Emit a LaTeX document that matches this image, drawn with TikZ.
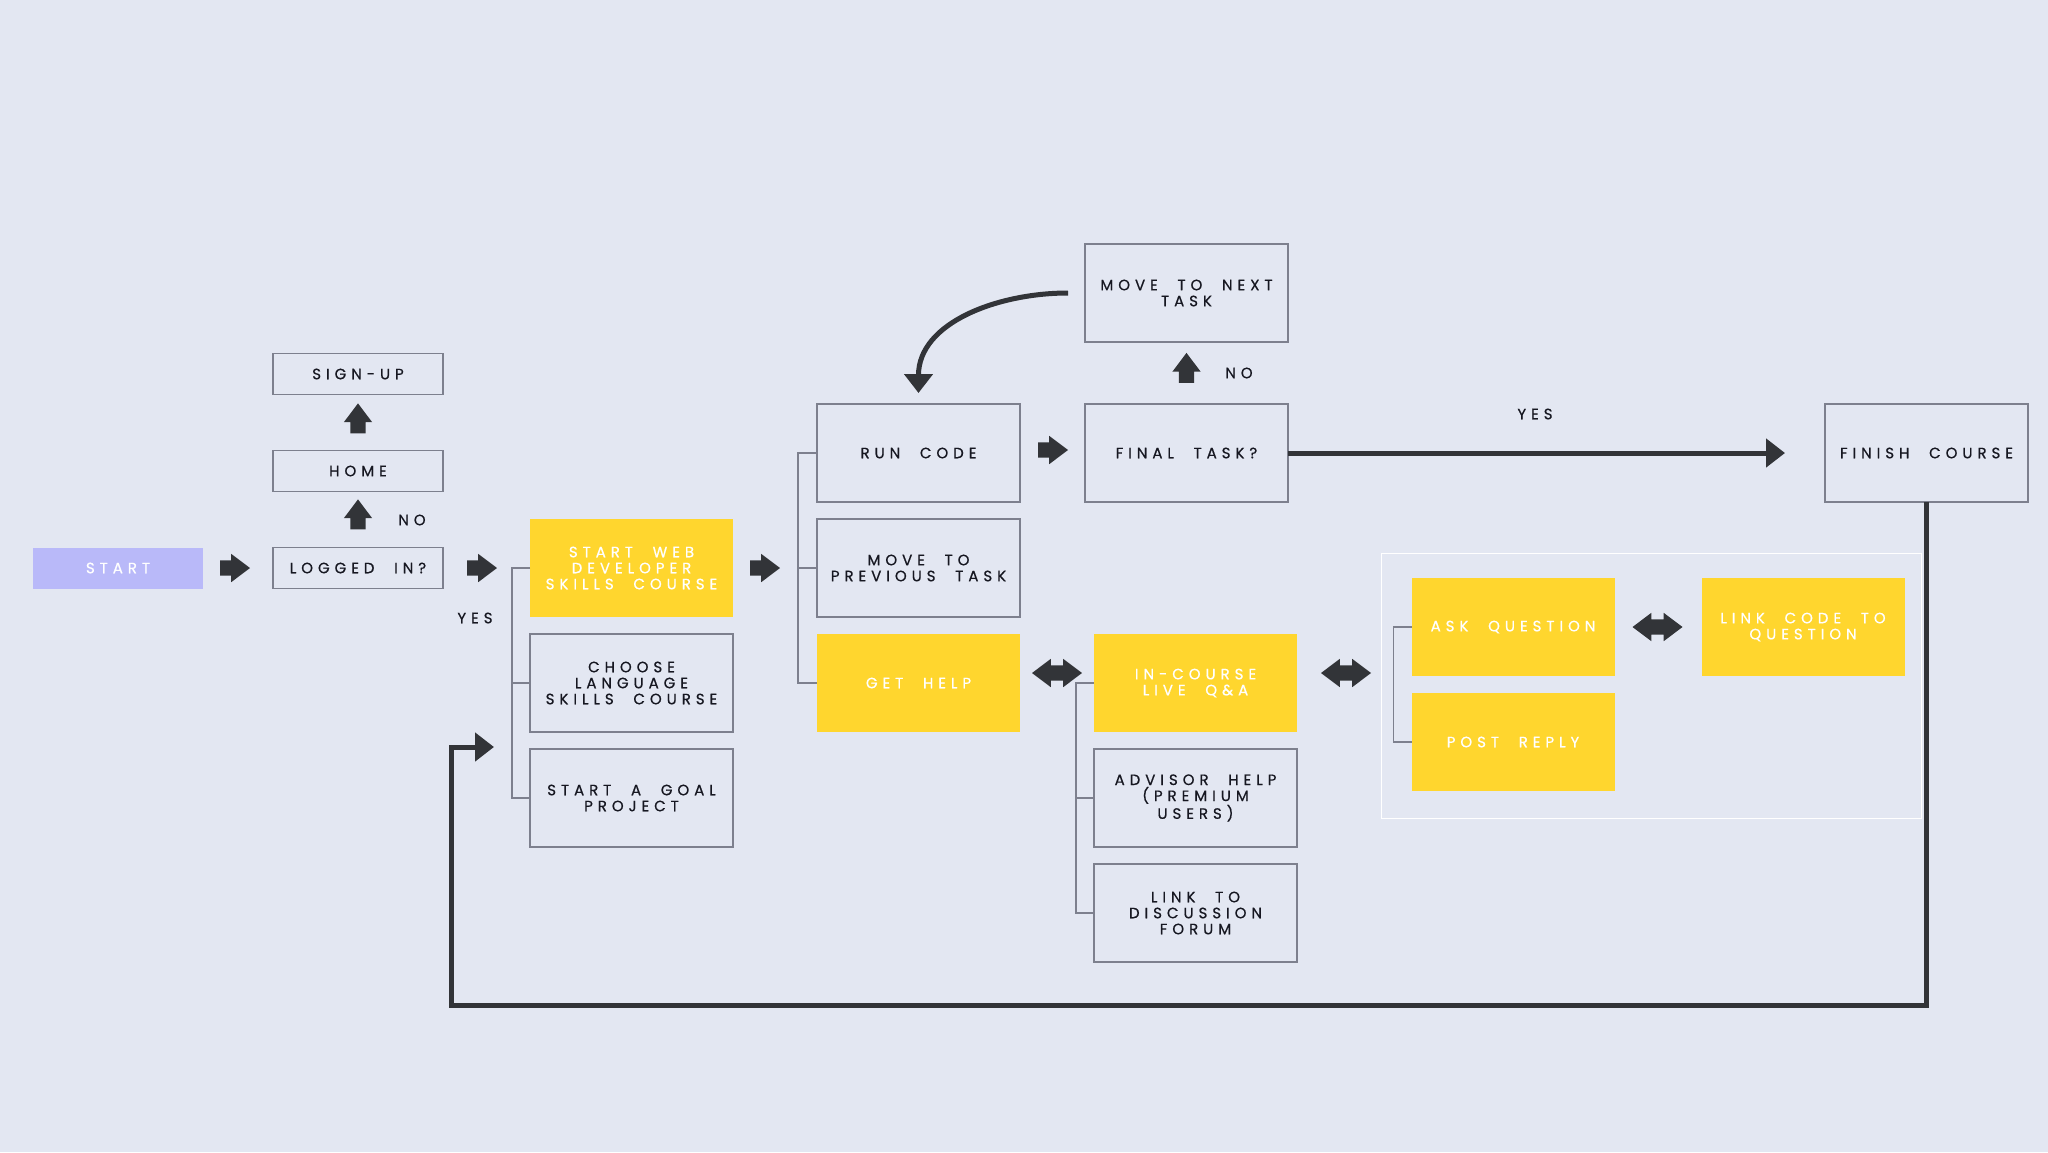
\documentclass[tikz,border=0pt]{standalone}
\usepackage{fontspec}
\newfontfamily\trk[LetterSpace=33, WordSpace=2.2, FakeBold=0.6]{Poppins}
\usetikzlibrary{positioning}
\usetikzlibrary{calc}
\usetikzlibrary{arrows.meta}
\usetikzlibrary{shapes.arrows}

\definecolor{bgc}{RGB}{227,231,242}
\definecolor{ylw}{RGB}{255,214,46}
\definecolor{lav}{RGB}{185,185,249}
\definecolor{drk}{RGB}{50,52,56}
\definecolor{brd}{RGB}{125,128,142}
\definecolor{txt}{RGB}{22,23,33}

\begin{document}
\begin{tikzpicture}[x=1pt, y=-1pt, font=\trk\fontsize{15}{16}\selectfont,
    BOX/.style={rectangle, draw=brd, line width=1.2pt, text=txt, minimum width=203pt, minimum height=98pt, align=center, inner sep=0pt, outer sep=0pt},
    SML/.style={BOX, minimum width=170pt, minimum height=41pt},
    HL/.style={BOX, draw=none, fill=ylw, text=white},
    BA/.style={single arrow, fill=drk, inner xsep=0pt, inner ysep=7.5pt, outer sep=0pt, minimum height=30pt, single arrow head extend=6.5pt, single arrow tip angle=74},
    DA/.style={double arrow, fill=drk, inner xsep=0pt, inner ysep=7.5pt, outer sep=0pt, minimum height=50pt, double arrow head extend=6.5pt, double arrow tip angle=74},
    LBL/.style={text=txt, inner sep=0pt},
    BR/.style={draw=brd, line width=1.2pt},
    THK/.style={draw=drk, line width=5pt, -{Triangle[length=19pt, width=28pt]}}]

    \useasboundingbox (0,0) rectangle (2048,1152);
    \fill[bgc] (0,0) rectangle (2048,1152);

            \node[SML, draw=none, fill=lav, text=white] (ST) at (118,568) {START};
            \node[SML, right=70pt of ST] (LI) {LOGGED IN?};
            \node[SML, above=56pt of LI] (HM) {HOME};
            \node[SML, above=56pt of HM] (SU) {SIGN-UP};

            \node[HL, right=87pt of LI] (WD) {START WEB\\
                                               DEVELOPER\\
                                               SKILLS COURSE};
            \node[BOX, below=17pt of WD] (LS) {CHOOSE\\
                                                LANGUAGE\\
                                                SKILLS COURSE};
            \node[BOX, below=17pt of LS] (GP) {START A GOAL\\
                                                PROJECT};

            \node[HL, right=84pt of LS] (GH) {GET HELP};
            \node[BOX, above=17pt of GH] (MP) {MOVE TO\\
                                                PREVIOUS TASK};
            \node[BOX, above=17pt of MP] (RC) {RUN CODE};
            \node[BOX, right=65pt of RC] (FT) {FINAL TASK?};
            \node[BOX, above=62pt of FT] (MN) {MOVE TO NEXT\\
                                                TASK};
            \node[BOX, right=537pt of FT] (FC) {FINISH COURSE};

            \node[HL, right=74pt of GH] (QA) {IN-COURSE\\
                                              LIVE Q\&A};
            \node[BOX, below=17pt of QA] (AH) {ADVISOR HELP\\
                                                (PREMIUM\\
                                                USERS)};
            \node[BOX, below=17pt of AH] (DF) {LINK TO\\
                                                DISCUSSION\\
                                                FORUM};

            \node[HL] (AQ) at (1513,627) {ASK QUESTION};
            \node[HL, right=87pt of AQ] (LC) {LINK CODE TO\\
                                              QUESTION};
            \node[HL, below=17pt of AQ] (PR) {POST REPLY};
            \draw[white, line width=1pt] ($(AQ.north west)+(-30,-25)$) rectangle ($(LC.east |- PR.south)+(17,27)$);

            \node[BA, right=17pt of ST] (A1) {};
            \node[BA, right=24pt of LI] (A2) {};
            \node[BA, rotate=90] (A3) at ($(LI.north)+(0,-28)$) {};
            \node[BA, rotate=90] (A4) at ($(HM.north)+(0,-27)$) {};
            \node[BA, right=17pt of WD] (A5) {};
            \node[BA, right=18pt of RC, yshift=3pt] (A6) {};
            \node[BA, rotate=90] (A7) at ($(FT.north)+(0,-31)$) {};
            \node[DA, right=12pt of GH, yshift=10pt] (D1) {};
            \node[DA, right=24pt of QA, yshift=10pt] (D2) {};
            \node[DA, right=18pt of AQ] (D3) {};

            \node[LBL] (N1) at (412,520) {NO};
            \node[LBL] (Y1) at (475,618) {YES};
            \node[LBL] (N2) at (1239,373) {NO};
            \node[LBL] (Y2) at (1535,414) {YES};

            \draw[BR] (WD.west) -- ++(-18,0) |- (GP.west);
            \draw[BR] (LS.west) -- ++(-18,0);
            \draw[BR] (RC.west) -- ++(-19,0) |- (GH.west);
            \draw[BR] (MP.west) -- ++(-19,0);
            \draw[BR] (QA.west) -- ++(-18,0) |- (DF.west);
            \draw[BR] (AH.west) -- ++(-18,0);
            \draw[BR] (AQ.west) -- ++(-18,0) |- (PR.west);

            \coordinate (RT) at ($(WD.west)+(-36,179)$);

            \draw[THK] ([xshift=-17pt]MN.west) to[out=180, in=90] ([yshift=11pt]RC.north);
            \draw[THK, shorten >=40pt] (FT.east) -- (FT.east -| FC.west);
            \draw[THK] (FC.south) -- ++(0,503) -| ([xshift=-43pt]RT) -- (RT);
        \end{tikzpicture}
\end{document}
